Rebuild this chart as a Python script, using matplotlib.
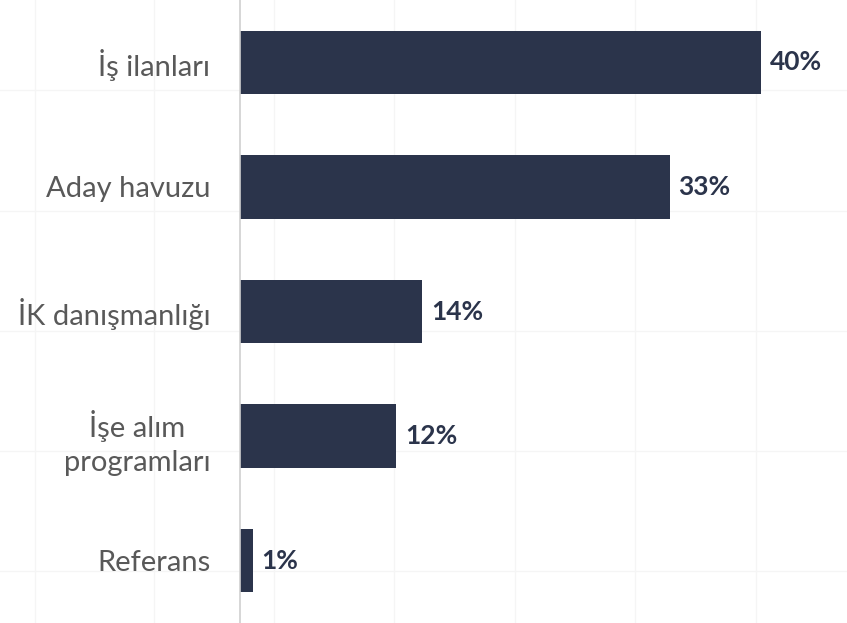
import matplotlib.pyplot as plt

# Chart data
categories = ['İş ilanları', 'Aday havuzu', 'İK danışmanlığı', 'İşe alım\nprogramları', 'Referans']
values = [40, 33, 14, 12, 1]
value_labels = ['40%', '33%', '14%', '12%', '1%']

bar_color = '#2b344b'
text_color = '#595959'

plt.rcParams['font.family'] = ['Lato', 'DejaVu Sans']

fig = plt.figure(figsize=(8.47, 6.23), dpi=100)

# Decorative background grid spanning the whole picture
bg = fig.add_axes([0, 0, 1, 1], zorder=0)
bg.set_xlim(0, 847)
bg.set_ylim(623, 0)
for gx in [35, 154, 274, 394, 515, 635, 756]:
    bg.axvline(gx, color='#f5f5f5', lw=1)
for gy in [90, 211, 331, 451, 571]:
    bg.axhline(gy, color='#f5f5f5', lw=1)
bg.axis('off')

# Main axes
ax = fig.add_axes([240 / 847, 0, 1 - 240 / 847, 1], zorder=1)
ax.patch.set_alpha(0)
y = range(len(categories))
ax.barh(y, values, height=0.51, color=bar_color)
ax.set_xlim(0, 46.6)
ax.set_ylim(4.5, -0.5)

for i, (v, lab) in enumerate(zip(values, value_labels)):
    ax.text(v + 0.65, i, lab, va='center', ha='left', fontsize=19,
            fontweight='bold', color=bar_color)

ax.set_yticks(list(y))
ax.set_yticklabels(categories, fontsize=21, color=text_color,
                   multialignment='center', linespacing=1.4)
ax.tick_params(axis='y', length=0, pad=21.5)
ax.set_xticks([])

for side in ['top', 'right', 'bottom']:
    ax.spines[side].set_visible(False)
ax.spines['left'].set_color('#d0d0d0')
ax.spines['left'].set_linewidth(1.2)

fig.savefig('out.png', dpi=100)
